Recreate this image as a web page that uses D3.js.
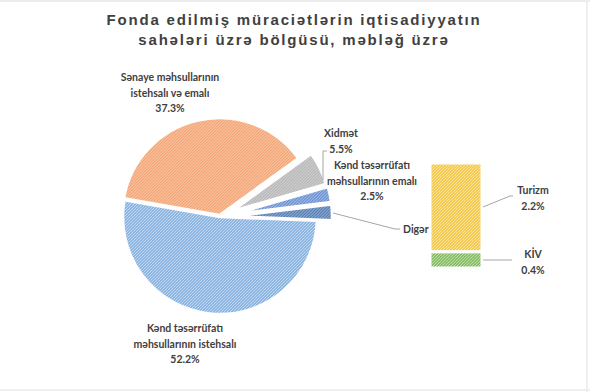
<!DOCTYPE html>
<html><head><meta charset="utf-8">
<script src="https://cdn.jsdelivr.net/npm/d3@7"></script>
<style>
html,body{margin:0;padding:0;background:#fff;}
svg{display:block;}
</style></head>
<body>
<svg id="c" width="590" height="392"></svg>
<script>
// ---- data ----
const titleLines = ["Fonda edilmiş müraciətlərin iqtisadiyyatın", "sahələri üzrə bölgüsü, məbləğ üzrə"];
const pieCategories = ["Sənaye məhsullarının istehsalı və emalı", "Xidmət", "Kənd təsərrüfatı məhsullarının emalı", "Digər", "Kənd təsərrüfatı məhsullarının istehsalı"];
const pieValues = [37.3, 5.5, 2.5, 2.6, 52.2];
const barCategories = ["Turizm", "KİV"];
const barValues = [2.2, 0.4];

// ---- styles ----
const pieColors = [["#f3a474","#fbd5bc"],["#b5b5b5","#e2e2e2"],["#6d93d3","#b4c9ec"],["#5a82b6","#a3bad8"],["#8db5e2","#c8ddf3"]];
const barColors = [["#f5ca52","#fbe6a3"],["#88be66","#c4e1b0"]];
const explode = [2, 14, 15, 15, 0];
const textColor = "#404040";

const svg = d3.select("#c");
const defs = svg.append("defs");
function pattern(id, c) {
  const s = 3;
  const p = defs.append("pattern").attr("id", id).attr("patternUnits","userSpaceOnUse")
    .attr("width", s).attr("height", s);
  p.append("rect").attr("width",s).attr("height",s).attr("fill",c[0]);
  p.append("path").attr("d",`M0,${s} L${s},0 M-1,1 L1,-1 M${s-1},${s+1} L${s+1},${s-1}`)
    .attr("stroke",c[1]).attr("stroke-width",0.9);
}
pieColors.forEach((c,i)=>pattern("pp"+i,c));
barColors.forEach((c,i)=>pattern("bp"+i,c));

// frame
svg.append("rect").attr("x",0).attr("y",0).attr("width",590).attr("height",2).attr("fill","#ececec");
svg.append("rect").attr("x",586).attr("y",0).attr("width",2).attr("height",392).attr("fill","#efefef");
svg.append("rect").attr("x",0).attr("y",389).attr("width",590).attr("height",2).attr("fill","#efefef");

// title
svg.append("g").selectAll("text").data(titleLines).join("text")
  .attr("x", 294).attr("y",(d,i)=>25 + i*20)
  .attr("text-anchor","middle")
  .attr("font-family","Liberation Sans, Arial, sans-serif")
  .attr("font-weight","bold").attr("font-size",15)
  .attr("letter-spacing", 1.8)
  .attr("fill","#404040").text(d=>d);

// pie
const cx = 220, cy = 217, R = 97;
const pie = d3.pie().sort(null).value(d=>d).startAngle(-80*Math.PI/180).endAngle(280*Math.PI/180);
const arcs = pie(pieValues);
const arc = d3.arc().innerRadius(0).outerRadius(R);
const gPie = svg.append("g").attr("transform",`translate(${cx},${cy})`);
gPie.selectAll("path").data(arcs).join("path")
  .attr("d", arc)
  .attr("transform",(d,i)=>{
    const m=(d.startAngle+d.endAngle)/2;
    return `translate(${explode[i]*Math.sin(m)},${-explode[i]*Math.cos(m)})`;
  })
  .attr("fill",(d,i)=>`url(#pp${i})`)
  .attr("stroke","#fff").attr("stroke-width",2.5).attr("stroke-linejoin","miter");

// bar of pie
const barX = 430, barW = 52;
const y = d3.scaleLinear().domain([0, d3.sum(barValues)]).range([163, 268]);
let acc = 0;
const stacks = barValues.map(v=>{const s={y0:acc,y1:acc+v}; acc+=v; return s;});
svg.append("g").selectAll("rect").data(stacks).join("rect")
  .attr("x",barX).attr("width",barW)
  .attr("y",d=>y(d.y0)).attr("height",d=>y(d.y1)-y(d.y0))
  .attr("fill",(d,i)=>`url(#bp${i})`)
  .attr("stroke","#fff").attr("stroke-width",3);

// leader lines
const lc = "#a6a6a6";
const lines = [
  [[323,180],[323,151],[327,151]],
  [[333,213],[395,229],[400,229]],
  [[483,207],[510,196],[513,196]],
  [[483,260],[512,260]]
];
svg.append("g").selectAll("path").data(lines).join("path")
  .attr("d", d=>d3.line()(d)).attr("fill","none").attr("stroke",lc).attr("stroke-width",1);

// labels
const fmt = v => v.toFixed(1) + "%";
const labels = [
  {x:170, y:81, lines:["Sənaye məhsullarının","istehsalı və emalı", fmt(pieValues[0])]},
  {x:341, y:137, lines:["Xidmət", fmt(pieValues[1])]},
  {x:372, y:169, lines:["Kənd təsərrüfatı","məhsullarının emalı", fmt(pieValues[2])]},
  {x:403, y:233, lines:["Digər"], anchor:"start"},
  {x:185, y:332, lines:["Kənd təsərrüfatı","məhsullarının istehsalı", fmt(pieValues[4])]},
  {x:533, y:194, lines:[barCategories[0], fmt(barValues[0])]},
  {x:533, y:258, lines:[barCategories[1], fmt(barValues[1])]}
];
const gl = svg.append("g").attr("font-family","Lato, Carlito, sans-serif").attr("font-weight","bold")
  .attr("font-size",10.5).attr("fill",textColor);
labels.forEach(l=>{
  const t = gl.append("text").attr("text-anchor", l.anchor||"middle");
  l.lines.forEach((s,i)=>t.append("tspan").attr("x",l.x).attr("y",l.y+i*15.5).text(s));
});
</script>
</body></html>
